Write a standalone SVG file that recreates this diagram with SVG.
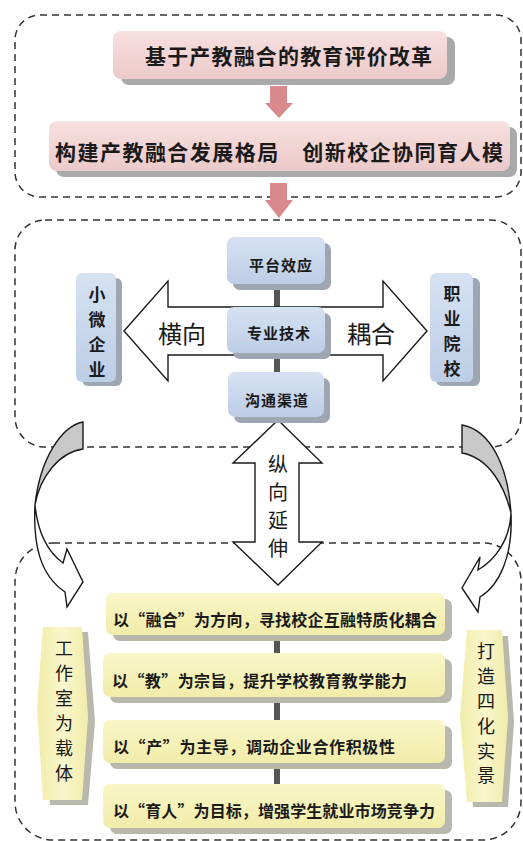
<svg xmlns="http://www.w3.org/2000/svg" width="523" height="841" viewBox="0 0 523 841">
<defs>
<linearGradient id="gPink" x1="0" y1="0" x2="0" y2="1"><stop offset="0" stop-color="#f7e0e0"/><stop offset="1" stop-color="#ecc9ca"/></linearGradient>
<linearGradient id="gBlue" x1="0" y1="0" x2="0" y2="1"><stop offset="0" stop-color="#d6e2f2"/><stop offset="1" stop-color="#bccde6"/></linearGradient>
<linearGradient id="gYel" x1="0" y1="0" x2="0" y2="1"><stop offset="0" stop-color="#f9f6c8"/><stop offset="1" stop-color="#f1eca9"/></linearGradient>
<linearGradient id="gYelH" x1="0" y1="0" x2="1" y2="0"><stop offset="0" stop-color="#f1eca9"/><stop offset="0.5" stop-color="#f9f6cc"/><stop offset="1" stop-color="#f1eca9"/></linearGradient>
<style>
.dash{fill:none;stroke:#333;stroke-width:1.5;stroke-dasharray:7 5}
.shadow{fill:#a9a9a9}
.shB{fill:#9ea6b2}
.shY{fill:#b8b8ad}
.pink{fill:url(#gPink)}
.blue{fill:url(#gBlue)}
.yel{fill:url(#gYel)}
.yelS{fill:url(#gYelH)}
.parrow{fill:#d7898b}
.bar{fill:#555}
.outline{fill:#fff;stroke:#1a1a1a;stroke-width:1.4;stroke-linejoin:miter}
.grayf{fill:#c8c8c8;stroke:#1a1a1a;stroke-width:1.4}
text{font-family:"Noto Sans CJK SC","Noto Sans CJK JP",sans-serif;fill:#1a1a1a}
.t1{font-size:21px;font-weight:bold}
.tb{font-size:15px;font-weight:bold}
.tv{font-size:17px;font-weight:bold}
.ty{font-size:16px;font-weight:bold}
.tbig{font-size:24px}
.tvert{font-size:20px}
.ts{font-size:18px}
</style>
</defs>
<rect width="523" height="841" fill="#fff"/>

<g id="frames">
<rect class="dash" x="15" y="15" width="506" height="182" rx="25"/>
<rect class="dash" x="15" y="220" width="506" height="227" rx="30"/>
<rect class="dash" x="15" y="543" width="506" height="297" rx="38"/>
</g>

<g id="connectors">
<polygon class="parrow" points="270,86 287,86 287,103 293,103 279,118 265,103 270,103"/>
<polygon class="parrow" points="270,183 287,183 287,200 293,200 279,218 265,200 270,200"/>
<rect class="bar" x="274" y="286" width="6" height="22"/>
<rect class="bar" x="274" y="353" width="6" height="20"/>
<rect class="bar" x="274" y="640" width="6" height="14"/>
<rect class="bar" x="274" y="702" width="6" height="19"/>
<rect class="bar" x="274" y="768" width="6" height="17"/>
<polygon id="h-arrow" class="outline" points="124,331 168,281 168,307 383,307 383,281 427,331 383,381 383,355 168,355 168,381"/>
<polygon id="v-arrow" class="outline" points="278,420 322,463 299,463 299,542 322,542 278,585 233,542 255,542 255,463 233,463"/>
<g id="left-curve">
<path class="grayf" d="M83,422 C62,426 40,458 35,505 C40,476 60,452 83,449 Z"/>
<path class="outline" d="M35,505 C38,535 48,552 63,563 L67,549 L83,582 L67,607 L65,592 C40,575 33,545 35,505 Z"/>
</g>
<g id="right-curve">
<path class="grayf" d="M462,425 C490,430 508,465 511,513 C505,488 490,458 462,453 Z"/>
<path class="outline" d="M511,513 C510,540 495,560 478,570 L480,557 L462,588 L478,612 L480,597 C500,585 513,555 511,513 Z"/>
</g>
<text class="tbig" x="182" y="332" text-anchor="middle" dominant-baseline="central">横向</text>
<text class="tbig" x="371" y="332" text-anchor="middle" dominant-baseline="central">耦合</text>
<text class="tvert" x="278" y="463" text-anchor="middle" dominant-baseline="central">纵</text>
<text class="tvert" x="278" y="491" text-anchor="middle" dominant-baseline="central">向</text>
<text class="tvert" x="278" y="519" text-anchor="middle" dominant-baseline="central">延</text>
<text class="tvert" x="278" y="547" text-anchor="middle" dominant-baseline="central">伸</text>
</g>

<g id="n-reform">
<rect class="shadow" x="121" y="37" width="334" height="48" rx="8"/>
<rect class="pink" x="113" y="31" width="334" height="48" rx="8"/>
<text class="t1" x="145" y="55" dominant-baseline="central" textLength="287" lengthAdjust="spacing">基于产教融合的教育评价改革</text>
</g>

<g id="n-build">
<rect class="shadow" x="56" y="127" width="461" height="50" rx="8"/>
<rect class="pink" x="49" y="121" width="461" height="50" rx="8"/>
<text class="t1" x="55" y="151" dominant-baseline="central" textLength="448" lengthAdjust="spacing">构建产教融合发展格局　创新校企协同育人模</text>
</g>

<g id="n-platform">
<rect class="shB" x="233" y="243" width="98" height="47" rx="7"/>
<rect class="blue" x="227" y="237" width="98" height="47" rx="7"/>
<text class="tb" x="281" y="264" text-anchor="middle" dominant-baseline="central" letter-spacing="1">平台效应</text>
</g>
<g id="n-tech">
<rect class="shB" x="233" y="313" width="98" height="46" rx="7"/>
<rect class="blue" x="227" y="307" width="98" height="46" rx="7"/>
<text class="tb" x="279" y="332" text-anchor="middle" dominant-baseline="central" letter-spacing="1">专业技术</text>
</g>
<g id="n-channel">
<rect class="shB" x="234" y="378" width="96" height="45" rx="7"/>
<rect class="blue" x="228" y="372" width="96" height="45" rx="7"/>
<text class="tb" x="277" y="399" text-anchor="middle" dominant-baseline="central" letter-spacing="1">沟通渠道</text>
</g>

<g id="n-sme">
<rect class="shB" x="82" y="278" width="40" height="108" rx="6"/>
<rect class="blue" x="76" y="273" width="40" height="109" rx="6"/>
<text class="tv" x="97" y="293" text-anchor="middle" dominant-baseline="central">小</text>
<text class="tv" x="97" y="318" text-anchor="middle" dominant-baseline="central">微</text>
<text class="tv" x="97" y="343" text-anchor="middle" dominant-baseline="central">企</text>
<text class="tv" x="97" y="368" text-anchor="middle" dominant-baseline="central">业</text>
</g>
<g id="n-college">
<rect class="shB" x="436" y="278" width="44" height="108" rx="6"/>
<rect class="blue" x="430" y="273" width="43" height="109" rx="6"/>
<text class="tv" x="452" y="292" text-anchor="middle" dominant-baseline="central">职</text>
<text class="tv" x="452" y="317" text-anchor="middle" dominant-baseline="central">业</text>
<text class="tv" x="452" y="342" text-anchor="middle" dominant-baseline="central">院</text>
<text class="tv" x="452" y="367" text-anchor="middle" dominant-baseline="central">校</text>
</g>

<g id="n-y1">
<rect class="shY" x="113" y="599" width="339" height="42" rx="7"/>
<rect class="yel" x="106" y="593" width="339" height="42" rx="7"/>
<text class="ty" x="113" y="619" dominant-baseline="central" textLength="324" lengthAdjust="spacing">以“融合”为方向，寻找校企互融特质化耦合</text>
</g>
<g id="n-y2">
<rect class="shY" x="110" y="659" width="342" height="44" rx="7"/>
<rect class="yel" x="103" y="653" width="342" height="44" rx="7"/>
<text class="ty" x="112" y="680" dominant-baseline="central" textLength="295" lengthAdjust="spacing">以“教”为宗旨，提升学校教育教学能力</text>
</g>
<g id="n-y3">
<rect class="shY" x="110" y="726" width="342" height="43" rx="7"/>
<rect class="yel" x="103" y="720" width="342" height="43" rx="7"/>
<text class="ty" x="113" y="746" dominant-baseline="central" textLength="282" lengthAdjust="spacing">以“产”为主导，调动企业合作积极性</text>
</g>
<g id="n-y4">
<rect class="shY" x="110" y="790" width="342" height="44" rx="7"/>
<rect class="yel" x="103" y="784" width="342" height="44" rx="7"/>
<text class="ty" x="113" y="810" dominant-baseline="central" textLength="322" lengthAdjust="spacing">以“育人”为目标，增强学生就业市场竞争力</text>
</g>

<g id="n-studio">
<polygon class="shY" points="50,632 88,632 95,722 88,805 50,805 44,712"/>
<polygon class="yelS" points="43,627 82,627 88,717 82,800 43,800 37,707"/>
<text class="ts" x="64" y="647" text-anchor="middle" dominant-baseline="central">工</text>
<text class="ts" x="64" y="672" text-anchor="middle" dominant-baseline="central">作</text>
<text class="ts" x="64" y="697" text-anchor="middle" dominant-baseline="central">室</text>
<text class="ts" x="64" y="722" text-anchor="middle" dominant-baseline="central">为</text>
<text class="ts" x="64" y="747" text-anchor="middle" dominant-baseline="central">载</text>
<text class="ts" x="64" y="772" text-anchor="middle" dominant-baseline="central">体</text>
</g>
<g id="n-scene">
<polygon class="shY" points="473,636 508,636 514,722 508,807 473,807 466,722"/>
<polygon class="yelS" points="467,630 502,630 508,717 502,802 467,802 460,717"/>
<text class="ts" x="486" y="650" text-anchor="middle" dominant-baseline="central">打</text>
<text class="ts" x="486" y="675" text-anchor="middle" dominant-baseline="central">造</text>
<text class="ts" x="486" y="700" text-anchor="middle" dominant-baseline="central">四</text>
<text class="ts" x="486" y="725" text-anchor="middle" dominant-baseline="central">化</text>
<text class="ts" x="486" y="750" text-anchor="middle" dominant-baseline="central">实</text>
<text class="ts" x="486" y="774" text-anchor="middle" dominant-baseline="central">景</text>
</g>
</svg>
